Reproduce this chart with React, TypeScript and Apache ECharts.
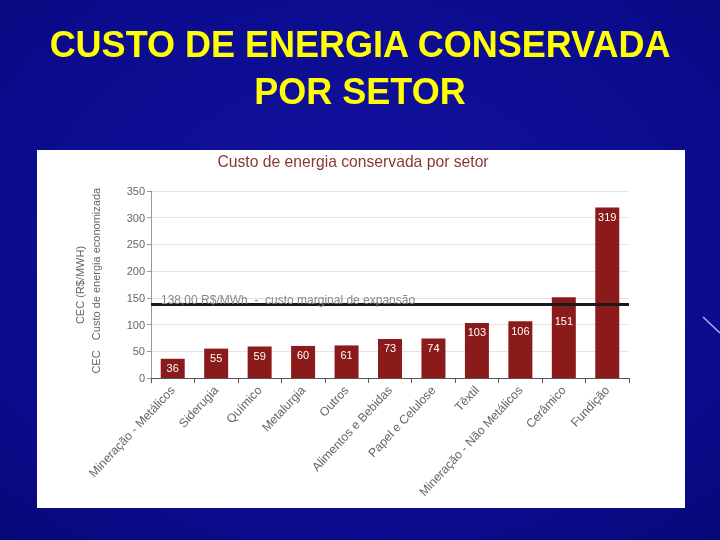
import React, { useEffect, useRef } from "react";
import * as echarts from "echarts";

const categories = [
  "Mineração - Metálicos",
  "Siderugia",
  "Químico",
  "Metalurgia",
  "Outros",
  "Alimentos e Bebidas",
  "Papel e Celulose",
  "Têxtil",
  "Mineração - Não Metálicos",
  "Cerâmico",
  "Fundição",
];
const costValues = [36, 55, 59, 60, 61, 73, 74, 103, 106, 151, 319];
const marginalCost = 138;
const marginalLabel = "138,00 R$/MWh  -  custo marginal de expansão";
const yTicks = { min: 0, max: 350, interval: 50 };

export default function App() {
  const ref = useRef<HTMLDivElement>(null);
  useEffect(() => {
    if (!ref.current) return;
    const chart = echarts.init(ref.current, null, { renderer: "svg" });
    const font = '"Liberation Sans", Arial, sans-serif';
    const option: any = {
      animation: false,
      backgroundColor: {
        type: "radial",
        x: 0.5,
        y: 0.45,
        r: 0.85,
        colorStops: [
          { offset: 0, color: "#1212a2" },
          { offset: 0.65, color: "#0b0b8c" },
          { offset: 1, color: "#06066c" },
        ],
      },
      graphic: [
        {
          type: "rect",
          z: -10,
          shape: { x: 37, y: 150, width: 648, height: 358 },
          style: { fill: "#ffffff" },
        },
        {
          type: "text",
          x: 360,
          y: 44,
          style: {
            text: "CUSTO DE ENERGIA CONSERVADA",
            font: "bold 36px " + font,
            fill: "#ffff00",
            textAlign: "center",
            textVerticalAlign: "middle",
          },
        },
        {
          type: "text",
          x: 360,
          y: 91,
          style: {
            text: "POR SETOR",
            font: "bold 36px " + font,
            fill: "#ffff00",
            textAlign: "center",
            textVerticalAlign: "middle",
          },
        },
        {
          type: "text",
          x: 353,
          y: 161,
          style: {
            text: "Custo de energia conservada por setor",
            font: "15.7px " + font,
            fill: "#8a3636",
            textAlign: "center",
            textVerticalAlign: "middle",
          },
        },
        {
          type: "text",
          x: 80,
          y: 285,
          rotation: Math.PI / 2,
          style: {
            text: "CEC (R$/MWH)",
            font: "11px " + font,
            fill: "#666",
            textAlign: "center",
            textVerticalAlign: "middle",
          },
        },
        {
          type: "text",
          x: 96,
          y: 264,
          rotation: Math.PI / 2,
          style: {
            text: "Custo de energia economizada",
            font: "11px " + font,
            fill: "#666",
            textAlign: "center",
            textVerticalAlign: "middle",
          },
        },
        {
          type: "text",
          x: 96,
          y: 362,
          rotation: Math.PI / 2,
          style: {
            text: "CEC",
            font: "11px " + font,
            fill: "#666",
            textAlign: "center",
            textVerticalAlign: "middle",
          },
        },
        {
          type: "line",
          shape: { x1: 703, y1: 317, x2: 720, y2: 333 },
          style: { stroke: "#b9a8ea", lineWidth: 1.5 },
        },
      ],
      grid: {
        left: 151,
        right: 91,
        top: 191,
        bottom: 162,
        containLabel: false,
        outerBoundsMode: "none",
      },
      xAxis: {
        type: "category",
        data: categories,
        axisLine: { lineStyle: { color: "#555", width: 1 } },
        axisTick: { show: true, length: 5, lineStyle: { color: "#555" } },
        axisLabel: {
          rotate: 47,
          interval: 0,
          fontSize: 12.2,
          fontFamily: font,
          color: "#666",
          margin: 10,
        },
      },
      yAxis: {
        type: "value",
        min: yTicks.min,
        max: yTicks.max,
        interval: yTicks.interval,
        axisLine: { show: true, lineStyle: { color: "#999" } },
        axisTick: { show: true, length: 4, lineStyle: { color: "#999" } },
        axisLabel: { fontSize: 11, fontFamily: font, color: "#666", margin: 6 },
        splitLine: { lineStyle: { color: "#e4e4e4" } },
      },
      series: [
        {
          type: "bar",
          data: costValues.map((v) =>
            v > 140 && v < 160 ? { value: v, label: { offset: [0, 14] } } : v
          ),
          barWidth: 24,
          itemStyle: { color: "#8b1a1a" },
          label: {
            show: true,
            position: "insideTop",
            distance: 4,
            color: "#ffffff",
            fontSize: 11,
            fontFamily: font,
          },
          markLine: {
            silent: true,
            symbol: "none",
            data: [{ yAxis: marginalCost }],
            lineStyle: { color: "#1a1a1a", width: 3, type: "solid" },
            label: {
              show: true,
              position: "insideStartTop",
              formatter: marginalLabel,
              color: "#888",
              fontSize: 12,
              fontFamily: font,
              distance: [10, -2],
            },
          },
        },
      ],
    };
    chart.setOption(option);
    return () => chart.dispose();
  }, []);
  return (
    <div
      ref={ref}
      style={{ position: "fixed", left: 0, top: 0, width: 720, height: 540 }}
    />
  );
}
